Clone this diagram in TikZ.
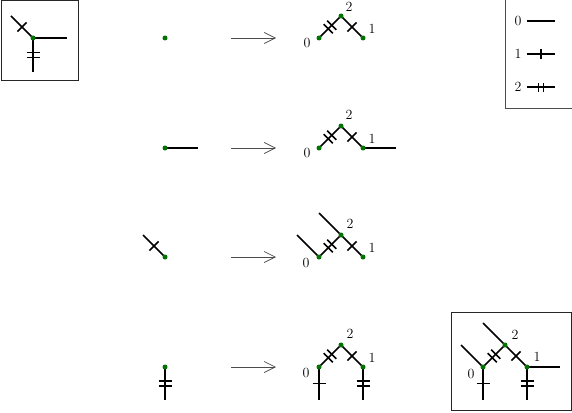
\documentclass[tikz,border=0pt]{standalone}
\usetikzlibrary{arrows.meta,decorations.markings}
\begin{document}
\begin{tikzpicture}[x=1pt,y=-1pt,
  edge/.style={line width=1.5pt,black},
  dot/.style={circle,fill=green!45!black,inner sep=0pt,minimum size=5pt},
  lab/.style={font=\fontsize{14}{16}\selectfont,inner sep=0pt},
  mapto/.style={line width=0.7pt,black!70,-{Straight Barb[length=11pt,width=11pt,line width=0.7pt]}},
  frame/.style={line width=1pt,black!85},
  tickone/.style={postaction={decorate},decoration={markings,mark=at position 0.5 with {\draw[line width=1.5pt] (0,-#1)--(0,#1);}}},
  tickone/.default=6.5pt,
  ticktwo/.style={postaction={decorate},decoration={markings,mark=at position 0.5 with {\draw[line width=1.5pt] (-2.5pt,-#1)--(-2.5pt,#1) (2.5pt,-#1)--(2.5pt,#1);}}},
  ticktwo/.default=6.5pt]
\useasboundingbox (0,0) rectangle (572,412);

% ---------- top-left box ----------
\coordinate (f) at (33,38);
\coordinate (fh) at (67,38);
\coordinate (fd) at (11,16);
\coordinate (fv) at (33,72);
\coordinate (fa) at (1,1);
\coordinate (fb) at (78,80);
\draw[frame] (fa) rectangle (fb);
\draw[edge] (f) -- (fh);
\draw[edge,tickone] (f) -- (fd);
\draw[edge,ticktwo] (f) -- (fv);
\node[dot] (fdot) at (f) {};

% ---------- legend ----------
\coordinate (ga) at (505,-2);
\coordinate (gb) at (505,108);
\coordinate (gc) at (574,108);
\draw[line width=0.7pt,black!70] (ga) -- (gb) -- (gc);
\node[lab] (g0) at (518,21) {0};
\coordinate (g0s) at (527,21); \coordinate (g0e) at (555,21);
\draw[edge] (g0s) -- (g0e);
\node[lab] (g1) at (518,54) {1};
\coordinate (g1s) at (527,54); \coordinate (g1e) at (555,54);
\draw[edge,tickone=4.5pt] (g1s) -- (g1e);
\node[lab] (g2) at (518,87) {2};
\coordinate (g2s) at (527,87); \coordinate (g2e) at (555,87);
\draw[edge,ticktwo=4.5pt] (g2s) -- (g2e);

% ---------- arrows ----------
\foreach \y/\n in {38/1,148/2,257/3,367/4}{
  \coordinate (s\n) at (231,\y);
  \coordinate (e\n) at (276,\y);
  \draw[mapto] (s\n) -- (e\n);
}

% ---------- row 1 ----------
\coordinate (p1) at (165,38);
\node[dot] (p1d) at (p1) {};
\coordinate (a0) at (319,38); \coordinate (a2) at (341,16); \coordinate (a1) at (363,38);
\draw[edge,ticktwo] (a0) -- (a2);
\draw[edge,tickone] (a2) -- (a1);
\node[dot] (a0d) at (a0) {}; \node[dot] (a2d) at (a2) {}; \node[dot] (a1d) at (a1) {};
\node[lab] (a0l) at ([shift={(-12,5)}]a0) {0};
\node[lab] (a2l) at ([shift={(8,-9.5)}]a2) {2};
\node[lab] (a1l) at ([shift={(9,-9.5)}]a1) {1};

% ---------- row 2 ----------
\coordinate (p2) at (165,148); \coordinate (q2) at (198,148);
\draw[edge] (p2) -- (q2);
\node[dot] (p2d) at (p2) {};
\coordinate (b0) at (319,148); \coordinate (b2) at (341,126); \coordinate (b1) at (363,148);
\coordinate (bx) at (396,148);
\draw[edge,ticktwo] (b0) -- (b2);
\draw[edge,tickone] (b2) -- (b1);
\draw[edge] (b1) -- (bx);
\node[dot] (b0d) at (b0) {}; \node[dot] (b2d) at (b2) {}; \node[dot] (b1d) at (b1) {};
\node[lab] (b0l) at ([shift={(-12,5)}]b0) {0};
\node[lab] (b2l) at ([shift={(8,-11)}]b2) {2};
\node[lab] (b1l) at ([shift={(9,-9.5)}]b1) {1};

% ---------- row 3 ----------
\coordinate (p3) at (165,257); \coordinate (q3) at (143,235);
\draw[edge,tickone] (p3) -- (q3);
\node[dot] (p3d) at (p3) {};
\coordinate (c0) at (319,257); \coordinate (c2) at (341,235); \coordinate (c1) at (363,257);
\coordinate (cx0) at (297,235); \coordinate (cx2) at (319,213);
\draw[edge,ticktwo] (c0) -- (c2);
\draw[edge,tickone] (c2) -- (c1);
\draw[edge] (c0) -- (cx0);
\draw[edge] (c2) -- (cx2);
\node[dot] (c0d) at (c0) {}; \node[dot] (c2d) at (c2) {}; \node[dot] (c1d) at (c1) {};
\node[lab] (c0l) at ([shift={(-13,6)}]c0) {0};
\node[lab] (c2l) at ([shift={(9,-11)}]c2) {2};
\node[lab] (c1l) at ([shift={(9,-9.5)}]c1) {1};

% ---------- row 4 ----------
\coordinate (p4) at (165,367); \coordinate (q4) at (165,400);
\draw[edge,ticktwo] (p4) -- (q4);
\node[dot] (p4d) at (p4) {};
\coordinate (d0) at (319,367); \coordinate (d2) at (341,345); \coordinate (d1) at (363,367);
\coordinate (dv0) at (319,400); \coordinate (dv1) at (363,400);
\draw[edge,ticktwo] (d0) -- (d2);
\draw[edge,tickone] (d2) -- (d1);
\draw[edge,tickone] (d0) -- (dv0);
\draw[edge,ticktwo] (d1) -- (dv1);
\node[dot] (d0d) at (d0) {}; \node[dot] (d2d) at (d2) {}; \node[dot] (d1d) at (d1) {};
\node[lab] (d0l) at ([shift={(-13,6)}]d0) {0};
\node[lab] (d2l) at ([shift={(9,-11)}]d2) {2};
\node[lab] (d1l) at ([shift={(9,-9.5)}]d1) {1};

% ---------- bottom-right box ----------
\coordinate (ha) at (451,312);
\coordinate (hb) at (571.5,410.5);
\draw[frame] (ha) rectangle (hb);
\coordinate (h0) at (483,367); \coordinate (h2) at (505,345); \coordinate (h1) at (527,367);
\coordinate (hx) at (560,367);
\coordinate (hu0) at (461,345); \coordinate (hu2) at (483,323);
\coordinate (hv0) at (483,400); \coordinate (hv1) at (527,400);
\draw[edge,ticktwo] (h0) -- (h2);
\draw[edge,tickone] (h2) -- (h1);
\draw[edge] (h1) -- (hx);
\draw[edge] (h0) -- (hu0);
\draw[edge] (h2) -- (hu2);
\draw[edge,tickone] (h0) -- (hv0);
\draw[edge,ticktwo] (h1) -- (hv1);
\node[dot] (h0d) at (h0) {}; \node[dot] (h2d) at (h2) {}; \node[dot] (h1d) at (h1) {};
\node[lab] (h0l) at ([shift={(-12,7)}]h0) {0};
\node[lab] (h2l) at ([shift={(10,-10)}]h2) {2};
\node[lab] (h1l) at ([shift={(10,-10)}]h1) {1};
\end{tikzpicture}
\end{document}
